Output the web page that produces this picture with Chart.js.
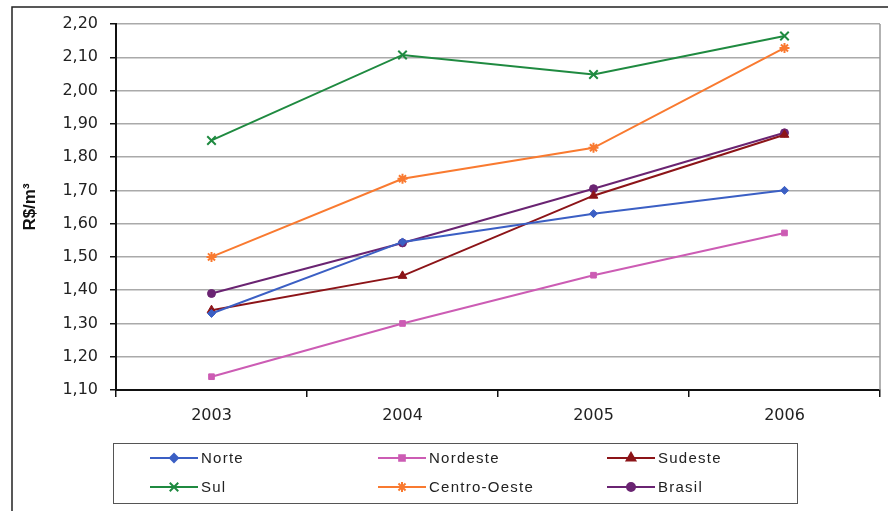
<!DOCTYPE html>
<html>
<head>
	<script type="text/javascript" src="https://cdn.jsdelivr.net/npm/chart.js@4/dist/chart.umd.min.js"></script>
	<style>
		body { margin: 0; background: #fff; }
		#wrap { width: 888px; height: 511px; }
	</style>
</head>
<body>
	<div id="wrap"><canvas id="canvas" width="888" height="511"></canvas></div>
	<script type="text/javascript">

	var years = ["2003", "2004", "2005", "2006"];
	var norte = [1.33, 1.545, 1.63, 1.70];
	var nordeste = [1.14, 1.30, 1.445, 1.572];
	var sudeste = [1.34, 1.443, 1.684, 1.867];
	var sul = [1.85, 2.107, 2.048, 2.164];
	var centroOeste = [1.50, 1.735, 1.828, 2.128];
	var brasil = [1.39, 1.542, 1.705, 1.873];
	var yMin = 1.10, yMax = 2.20, yStep = 0.10;

	function serie(label, data, color, style, radius){
		return {
			label: label, data: data,
			borderColor: color, backgroundColor: color,
			borderWidth: 2, pointStyle: style, pointRadius: radius,
			pointBorderWidth: style == "crossRot" || style == "star" ? 2 : 1,
			tension: 0
		};
	}

	// frame, plot border and legend box
	var extras = {
		id: "extras",
		beforeDraw: function(chart){
			var c = chart.ctx;
			c.save();
			c.strokeStyle = "#222";
			c.lineWidth = 1.5;
			c.beginPath();
			c.moveTo(12, 511); c.lineTo(12, 7); c.lineTo(888, 7);
			c.stroke();
			c.restore();
		},
		afterDraw: function(chart){
			var c = chart.ctx, a = chart.chartArea;
			c.save();
			c.strokeStyle = "#999";
			c.lineWidth = 1.5;
			c.beginPath();
			c.moveTo(a.right, a.top); c.lineTo(a.right, a.bottom);
			c.stroke();

			c.strokeStyle = "#555";
			c.lineWidth = 1;
			c.strokeRect(113.5, 443.5, 684, 60);

			var cols = [150, 378, 607], rows = [458, 487];
			c.font = "15px 'Liberation Sans'";
			c.textBaseline = "middle";
			chart.data.datasets.forEach(function(ds, i){
				var x = cols[i % 3], y = rows[Math.floor(i / 3)];
				c.strokeStyle = ds.borderColor;
				c.fillStyle = ds.backgroundColor;
				c.lineWidth = 2;
				c.beginPath(); c.moveTo(x, y); c.lineTo(x + 48, y); c.stroke();
				Chart.helpers.drawPoint(c, {
					pointStyle: ds.pointStyle, radius: ds.pointRadius,
					borderWidth: ds.pointBorderWidth
				}, x + 24, y);
				c.fillStyle = "#222";
				c.fillText(ds.label.split("").join(String.fromCharCode(8202)), x + 51, y + 1);
			});
			c.restore();
		}
	};

	var ctx = document.getElementById("canvas").getContext("2d");
	var chart = new Chart(ctx, {
		type: "line",
		data: {
			labels: years,
			datasets: [
				serie("Norte", norte, "#3b5fc4", "rectRot", 4),
				serie("Nordeste", nordeste, "#cc5cb4", "rect", 4),
				serie("Sudeste", sudeste, "#8c1418", "triangle", 5),
				serie("Sul", sul, "#1f8a40", "crossRot", 6),
				serie("Centro-Oeste", centroOeste, "#f97a30", "star", 5),
				serie("Brasil", brasil, "#6a2472", "circle", 4)
			]
		},
		options: {
			responsive: false,
			animation: false,
			layout: { padding: { left: 0, right: 8, top: 24, bottom: 0 } },
			plugins: { legend: { display: false }, tooltip: { enabled: false } },
			scales: {
				x: {
					offset: true,
					afterFit: function(s){ s.height = 121; },
					grid: { offset: true, drawOnChartArea: false, drawTicks: true, tickLength: 7, color: "#111", lineWidth: 1.5 },
					border: { color: "#111", width: 2 },
					ticks: { color: "#222", padding: 9, font: { family: "DejaVu Sans", size: 16 } }
				},
				y: {
					min: yMin, max: yMax,
					afterFit: function(s){ s.width = 116; },
					grid: { color: "#aaa", lineWidth: 1.5, tickLength: 6, tickColor: "#111" },
					border: { color: "#111", width: 2 },
					ticks: {
						stepSize: yStep, color: "#222", padding: 12,
						font: { family: "DejaVu Sans", size: 16 },
						callback: function(v){ return v.toFixed(2).replace(".", ","); }
					},
					title: {
						display: true, text: "R$/m³", color: "#111",
						padding: { top: 20, bottom: 0 },
						font: { family: "Liberation Sans", size: 17, weight: "bold" }
					}
				}
			}
		},
		plugins: [extras]
	});

	</script>
</body>
</html>
